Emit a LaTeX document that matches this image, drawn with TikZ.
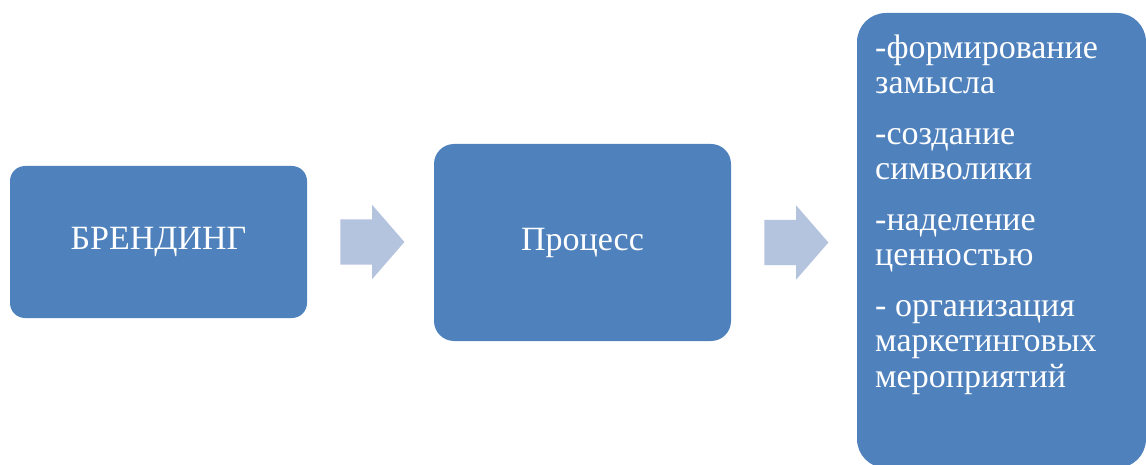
\documentclass[tikz,border=0pt]{standalone}
\usepackage{fontspec}
\setmainfont{Liberation Serif}
\usetikzlibrary{calc, positioning, shapes.arrows}
\definecolor{boxblue}{HTML}{4F81BD}
\definecolor{arrowblue}{HTML}{B4C3DE}

\begin{document}
\begin{tikzpicture}[x=1pt, y=-1pt,
  stagebox/.style={fill=boxblue, text=white, rounded corners=#1, inner sep=0pt,
    font=\fontsize{34}{35.5}\selectfont},
  blockarrow/.style={single arrow, fill=arrowblue, minimum height=64pt,
    minimum width=74pt, single arrow head extend=14.5pt, single arrow tip angle=98,
    inner xsep=0pt, inner ysep=22.5pt}]
  \useasboundingbox (0,0) rectangle (1146,465);

  % Stages
  \node[stagebox=15pt, minimum width=297pt, minimum height=152pt] (brand) at (158.5,242) {БРЕНДИНГ};
  \node[stagebox=20pt, minimum width=297pt, minimum height=197pt] (process) at (582.5,242.5) {Процесс};

  % Actions of the process
  \node[stagebox=29pt, minimum width=289pt, minimum height=455pt] (actions) at (1001.5,240.5) {};
  \node[anchor=north west, align=left, inner sep=0pt, text=white,
    font=\fontsize{34}{35.5}\selectfont] (list) at (875,34.5)
    {-формирование\\замысла\\[15pt]-создание\\символики\\[15pt]-наделение\\ценностью\\[15pt]- организация\\маркетинговых\\мероприятий};

  % Block arrows between the stages
  \node[blockarrow, right=33pt of brand] (arrowA) {};
  \node[blockarrow, right=33pt of process] (arrowB) {};
\end{tikzpicture}
\end{document}
